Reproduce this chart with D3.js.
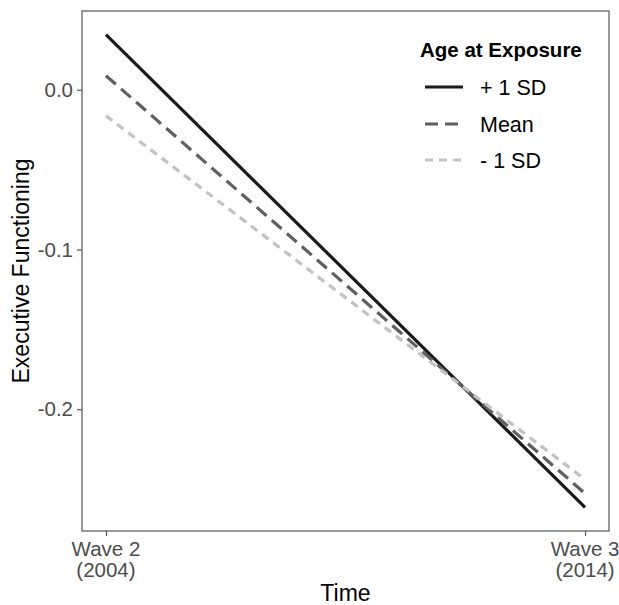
<!DOCTYPE html>
<html>
<head>
<meta charset="utf-8">
<script src="https://cdn.jsdelivr.net/npm/d3@7"></script>
<style>
  body { margin: 0; background: #fff; }
  svg { font-family: "Liberation Sans", Arial, sans-serif; }
</style>
</head>
<body>
<svg id="chart"></svg>
<script>
  // data
  const waves = [["Wave 2", "(2004)"], ["Wave 3", "(2014)"]];
  const plusSD = [0.0345, -0.2614];
  const meanAge = [0.0088, -0.2527];
  const minusSD = [-0.0163, -0.2439];
  const seriesNames = ["+ 1 SD", "Mean", "- 1 SD"];
  const yTicks = [0, -0.1, -0.2];

  const w = 619;
  const h = 605;
  const panel = { left: 82, right: 609, top: 11, bottom: 531 };

  const svg = d3.select("#chart").attr("width", w).attr("height", h);

  const styles = [
    { color: "#1a1a1a", dash: null },
    { color: "#5f5f5f", dash: "13,7" },
    { color: "#c2c2c2", dash: "8,6" },
  ];
  const series = [plusSD, meanAge, minusSD];

  // ggplot-like 5% expansion
  const all = series.flat();
  const ext = d3.extent(all);
  const pad = (ext[1] - ext[0]) * 0.05;

  const x = d3
    .scaleLinear()
    .domain([-0.05, 1.05])
    .range([panel.left, panel.right]);

  const y = d3
    .scaleLinear()
    .domain([ext[0] - pad, ext[1] + pad])
    .range([panel.bottom, panel.top]);

  const line = d3
    .line()
    .x((d, i) => x(i))
    .y((d) => y(d));

  // lines
  svg
    .append("g")
    .selectAll("path")
    .data(series)
    .join("path")
    .attr("d", line)
    .attr("fill", "none")
    .attr("stroke", (d, i) => styles[i].color)
    .attr("stroke-width", 3.2)
    .attr("stroke-dasharray", (d, i) => styles[i].dash);

  // panel border
  svg
    .append("rect")
    .attr("x", panel.left)
    .attr("y", panel.top)
    .attr("width", panel.right - panel.left)
    .attr("height", panel.bottom - panel.top)
    .attr("fill", "none")
    .attr("stroke", "#555")
    .attr("stroke-width", 1.2);

  // y axis
  const yAxis = svg
    .append("g")
    .attr("transform", `translate(${panel.left},0)`)
    .call(
      d3
        .axisLeft(y)
        .tickValues(yTicks)
        .tickSize(5)
        .tickPadding(4)
        .tickFormat((d) => d.toFixed(1))
    );
  yAxis.select(".domain").remove();
  yAxis.selectAll(".tick line").attr("stroke", "#555").attr("stroke-width", 1.2);
  yAxis
    .selectAll(".tick text")
    .attr("fill", "#4d4d4d")
    .style("font-size", "20.5px")
    .style("font-family", "Liberation Sans, Arial, sans-serif");

  // x axis
  const xAxis = svg
    .append("g")
    .attr("transform", `translate(0,${panel.bottom})`)
    .call(
      d3
        .axisBottom(x)
        .tickValues([0, 1])
        .tickSize(5)
        .tickFormat("")
    );
  xAxis.select(".domain").remove();
  xAxis.selectAll(".tick line").attr("stroke", "#555").attr("stroke-width", 1.2);

  const xLabels = svg
    .append("g")
    .selectAll("text")
    .data(waves)
    .join("text")
    .attr("text-anchor", "middle")
    .attr("fill", "#4d4d4d")
    .style("font-size", "20.5px");
  xLabels
    .selectAll("tspan")
    .data((d, i) => d.map((t) => ({ t, i })))
    .join("tspan")
    .attr("x", (d) => x(d.i))
    .attr("y", (d, j) => 556 + j * 21)
    .text((d) => d.t);

  // axis titles
  svg
    .append("text")
    .attr("x", (panel.left + panel.right) / 2)
    .attr("y", 601)
    .attr("text-anchor", "middle")
    .style("font-size", "23px")
    .text("Time");

  svg
    .append("text")
    .attr("transform", `translate(29, ${(panel.top + panel.bottom) / 2}) rotate(-90)`)
    .attr("text-anchor", "middle")
    .style("font-size", "23px")
    .text("Executive Functioning");

  // legend
  const legend = svg.append("g").attr("transform", "translate(420,0)");
  legend
    .append("text")
    .attr("x", 0)
    .attr("y", 57)
    .style("font-size", "20.5px")
    .style("font-weight", "bold")
    .text("Age at Exposure");

  const keyY = [87, 124, 160];
  const items = legend
    .selectAll("g.item")
    .data(seriesNames)
    .join("g")
    .attr("class", "item")
    .attr("transform", (d, i) => `translate(0,${keyY[i]})`);
  items
    .append("line")
    .attr("x1", 5)
    .attr("x2", 43)
    .attr("stroke", (d, i) => styles[i].color)
    .attr("stroke-width", 3.2)
    .attr("stroke-dasharray", (d, i) => styles[i].dash);
  items
    .append("text")
    .attr("x", 60)
    .attr("y", 8)
    .style("font-size", "21.5px")
    .text((d) => d);
</script>
</body>
</html>
